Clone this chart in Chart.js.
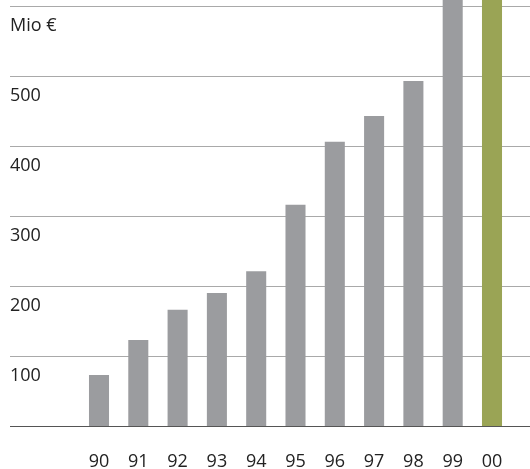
<!DOCTYPE html>
<html>
<head>
<meta charset="utf-8">
<script src="https://cdn.jsdelivr.net/npm/chart.js@4"></script>
<style>
  html, body { margin: 0; padding: 0; background: #fff; }
  #wrap { width: 530px; height: 469px; }
</style>
</head>
<body>
<div id="wrap"><canvas id="chart"></canvas></div>
<script>
// Jahre und Werte (Mio €)
const years = ['90', '91', '92', '93', '94', '95', '96', '97', '98', '99', '00'];
const values = [73, 123, 166, 190, 221, 316, 406, 443, 493, 650, 700];
const yTicks = [0, 100, 200, 300, 400, 500, 600];
const unitLabel = 'Mio €';

const GRAY = '#9b9c9f';
const OLIVE = '#9aa455';

// gridlines run across the whole width, not only the plot area
const fullGrid = {
  id: 'fullGrid',
  beforeDatasetsDraw(chart) {
    const y = chart.scales.y;
    const c = chart.ctx;
    c.save();
    yTicks.forEach(v => {
      const py = Math.round(y.getPixelForValue(v)) + 0.5;
      c.beginPath();
      c.strokeStyle = v === 0 ? '#555' : '#a9a9a9';
      c.lineWidth = 1;
      c.moveTo(y.left, py);
      c.lineTo(chart.width, py);
      c.stroke();
    });
    c.restore();
  }
};

new Chart(document.getElementById('chart'), {
  type: 'bar',
  data: {
    labels: years,
    datasets: [{
      data: values,
      backgroundColor: years.map((_, i) => i === years.length - 1 ? OLIVE : GRAY),
      barPercentage: 0.51,
      categoryPercentage: 1,
      clip: false
    }]
  },
  options: {
    responsive: true,
    maintainAspectRatio: false,
    animation: false,
    layout: { padding: { top: 6, left: 10, right: 18.35, bottom: 0 } },
    plugins: { legend: { display: false }, tooltip: { enabled: false } },
    scales: {
      x: {
        grid: { display: false, drawTicks: false },
        border: { display: false },
        ticks: { color: '#222', font: { family: 'Open Sans', size: 18 }, padding: 25, maxRotation: 0 },
        afterFit(s) { s.height = 43; s.paddingLeft = 0; s.paddingRight = 0; }
      },
      y: {
        min: 0,
        max: 600,
        afterBuildTicks(s) { s.ticks = yTicks.map(v => ({ value: v })); },
        grid: { display: false, drawTicks: false },
        border: { display: false },
        ticks: {
          color: '#222',
          font: { family: 'Open Sans', size: 18 },
          crossAlign: 'far',
          labelOffset: 20,
          callback: v => v === 0 ? '' : (v === 600 ? unitLabel : String(v))
        },
        afterFit(s) { s.width = 69.35; s.paddingTop = 0; s.paddingBottom = 0; }
      }
    }
  },
  plugins: [fullGrid]
});
</script>
</body>
</html>
